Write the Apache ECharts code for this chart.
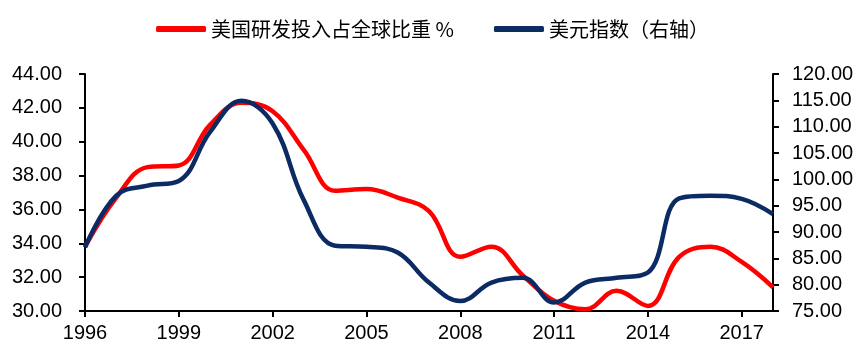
<!DOCTYPE html>
<html><head><meta charset="utf-8">
<script src="https://cdn.jsdelivr.net/npm/echarts@6/dist/echarts.min.js"></script>
<style>html,body{margin:0;padding:0;background:#fff}#c{width:865px;height:358px}</style>
</head><body><div id="c"></div>
<script>
const years = ['1996','1997','1998','1999','2000','2001','2002','2003','2004','2005','2006','2007','2008','2009','2010','2011','2012','2013','2014','2015','2016','2017','2018'];
const rdShare = [33.8,36.7,38.5,38.6,41.0,42.3,41.8,39.5,37.1,37.2,36.7,35.9,33.2,33.8,32.1,30.6,30.1,31.2,30.3,33.2,33.8,32.9,31.4];
const dollarIndex = [87.1,96.9,98.8,99.7,109.0,114.9,110.6,96.0,87.4,87.2,86.1,80.4,76.9,80.4,81.3,76.6,80.4,81.3,82.3,96.4,96.9,96.3,93.4];
const seriesNames = ['美国研发投入占全球比重 %','美元指数（右轴）'];

const chart = echarts.init(document.getElementById('c'));
const axisFont = {color:'#000', fontFamily:'Liberation Sans, Arial', fontSize:20};
chart.setOption({
  animation:false,
  legend:{
    top:14, left:'center', itemGap:40,
    icon:'roundRect', itemWidth:50, itemHeight:6,
    textStyle:{fontFamily:'Noto Sans CJK SC', fontSize:20, color:'#000'},
    data:seriesNames
  },
  grid:{left:85, right:92, top:74, bottom:47, containLabel:false},
  xAxis:{
    type:'category', data:years, boundaryGap:false,
    axisLine:{lineStyle:{color:'#000', width:2}},
    axisTick:{interval:2, length:6, lineStyle:{color:'#000', width:2}},
    axisLabel:Object.assign({interval:2, margin:12}, axisFont)
  },
  yAxis:[{
    type:'value', min:30, max:44, interval:2,
    splitLine:{show:false},
    axisLine:{show:true, lineStyle:{color:'#000', width:2}},
    axisTick:{show:true, length:6, lineStyle:{color:'#000', width:2}},
    axisLabel:Object.assign({formatter:v=>v.toFixed(2), margin:23}, axisFont)
  },{
    type:'value', min:75, max:120, interval:5,
    splitLine:{show:false},
    axisLine:{show:true, lineStyle:{color:'#000', width:2}},
    axisTick:{show:true, length:6, lineStyle:{color:'#000', width:2}},
    axisLabel:Object.assign({formatter:v=>v.toFixed(2), margin:19}, axisFont)
  }],
  series:[{
    name:seriesNames[0], type:'line', data:rdShare, yAxisIndex:0,
    smooth:0.4, showSymbol:false, color:'#FF0000',
    lineStyle:{width:4.5, color:'#FF0000'}
  },{
    name:seriesNames[1], type:'line', data:dollarIndex, yAxisIndex:1,
    smooth:0.4, showSymbol:false, color:'#0C2A63',
    lineStyle:{width:4.5, color:'#0C2A63'}
  }]
});
</script></body></html>
